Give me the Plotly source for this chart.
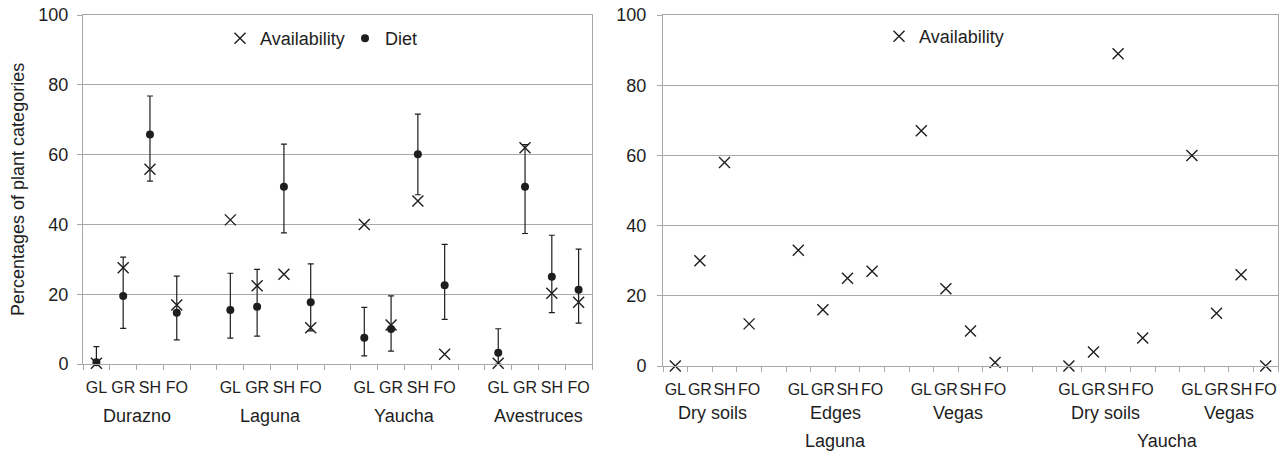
import plotly.graph_objects as go

# ---------------- data ----------------
cats = ["GL", "GR", "SH", "FO"]

left_sites = ["Durazno", "Laguna", "Yaucha", "Avestruces"]
left_avail = [0.2, 27.6, 55.8, 16.9,
              41.3, 22.4, 25.7, 10.4,
              40.0, 11.2, 46.7, 2.8,
              0.2, 62.0, 20.3, 17.7]
left_diet = [0.5, 19.5, 65.8, 14.7,
             15.5, 16.4, 50.8, 17.7,
             7.5, 10.0, 60.1, 22.6,
             3.2, 50.8, 25.0, 21.3]
diet_upper = [5.0, 30.6, 76.8, 25.2,
              26.0, 27.1, 63.0, 28.7,
              16.2, 19.5, 71.6, 34.3,
              10.1, 62.9, 36.9, 32.9]
diet_lower = [0.0, 10.2, 52.4, 6.9,
              7.4, 8.0, 37.6, 9.5,
              2.3, 3.7, 48.5, 12.8,
              0.0, 37.4, 14.7, 11.7]

right_habitats = ["Dry soils", "Edges", "Vegas", "Dry soils", "Vegas"]
right_sites = ["Laguna", "Yaucha"]
right_site_groups = [[0, 1, 2], [3, 4]]
right_avail = [0, 30, 58, 12,
               33, 16, 25, 27,
               67, 22, 10, 1,
               0, 4, 89, 8,
               60, 15, 26, 0]

y_ticks = [0, 20, 40, 60, 80, 100]
y_title = "Percentages of plant categories"

# ---------------- positions (slot indices) ----------------
left_starts = [g * 5 for g in range(len(left_sites))]
left_x = [s + i for s in left_starts for i in range(4)]
right_starts = [0, 5, 10, 16, 21]
right_x = [s + i for s in right_starts for i in range(4)]

err_plus = [u - d for u, d in zip(diet_upper, left_diet)]
err_minus = [d - l for d, l in zip(left_diet, diet_lower)]

INK = "#1e1e1e"
GRID = "#a8a8a8"
FONT = "Liberation Sans, Arial, sans-serif"

fig = go.Figure()

fig.add_trace(go.Scatter(
    x=left_x, y=left_avail, mode="markers", name="Availability",
    marker=dict(symbol="x-thin", size=11, line=dict(width=1.4, color=INK), color=INK),
    xaxis="x", yaxis="y", legend="legend", cliponaxis=False))
fig.add_trace(go.Scatter(
    x=left_x, y=left_diet, mode="markers", name="Diet",
    marker=dict(symbol="circle", size=8, color=INK),
    error_y=dict(type="data", array=err_plus, arrayminus=err_minus,
                 color=INK, thickness=1.2, width=3),
    xaxis="x", yaxis="y", legend="legend", cliponaxis=False))
fig.add_trace(go.Scatter(
    x=right_x, y=right_avail, mode="markers", name="Availability",
    marker=dict(symbol="x-thin", size=11, line=dict(width=1.4, color=INK), color=INK),
    xaxis="x2", yaxis="y2", legend="legend2", cliponaxis=False))

W, H = 1283, 453
def px(v):
    return v / W
def py(v):
    return 1 - v / H

axis_common = dict(showline=True, linecolor=GRID, linewidth=1, mirror=True,
                   zeroline=False, color=INK, automargin=False)

fig.update_layout(
    width=W, height=H, autosize=False,
    margin=dict(l=0, r=0, t=0, b=0, pad=0, autoexpand=False),
    paper_bgcolor="white", plot_bgcolor="white",
    font=dict(family=FONT, size=16, color=INK),
    xaxis=dict(domain=[px(83), px(592)], range=[-0.5, 18.5],
               tickmode="array", tickvals=left_x, ticktext=cats * len(left_sites),
               ticks="", showgrid=False, ticklabelstandoff=9, tickangle=0,
               tickfont=dict(size=16),
               minor=dict(tickmode="array", tickvals=[i - 0.5 for i in range(20)],
                          ticks="outside", ticklen=5, tickcolor=GRID, showgrid=False),
               anchor="y", **axis_common),
    yaxis=dict(domain=[py(364), py(15)], range=[0, 100.01],
               tickmode="array", tickvals=y_ticks, ticks="outside", ticklen=5,
               tickcolor=GRID, showgrid=True, gridcolor=GRID, gridwidth=1,
               tickfont=dict(size=18), ticklabelstandoff=5,
               anchor="x", **axis_common),
    xaxis2=dict(domain=[px(663), px(1278)], range=[-0.5, 24.5],
                tickmode="array", tickvals=right_x,
                ticktext=cats * len(right_habitats),
                ticks="", showgrid=False, ticklabelstandoff=9, tickangle=0,
                tickfont=dict(size=16),
                minor=dict(tickmode="array", tickvals=[i - 0.5 for i in range(26)],
                           ticks="outside", ticklen=5, tickcolor=GRID, showgrid=False),
                anchor="y2", **axis_common),
    yaxis2=dict(domain=[py(366), py(15)], range=[0, 100.01],
                tickmode="array", tickvals=y_ticks, ticks="outside", ticklen=5,
                tickcolor=GRID, showgrid=True, gridcolor=GRID, gridwidth=1,
                tickfont=dict(size=18), ticklabelstandoff=7,
                anchor="x2", **axis_common),
    legend=dict(orientation="h", x=px(220), y=py(20), xanchor="left", yanchor="top",
                bgcolor="rgba(0,0,0,0)", font=dict(size=18), itemwidth=30,
                entrywidth=80, tracegroupgap=0),
    legend2=dict(orientation="h", x=px(879), y=py(18), xanchor="left", yanchor="top",
                 bgcolor="rgba(0,0,0,0)", font=dict(size=18), itemwidth=30),
    showlegend=True,
)

annotations = [dict(x=px(18), y=py(190), xref="paper", yref="paper", text=y_title,
                    textangle=-90, showarrow=False, font=dict(size=18),
                    xanchor="center", yanchor="middle")]
for s, name in zip(left_starts, left_sites):
    annotations.append(dict(x=s + 1.5, y=py(416), xref="x", yref="paper",
                            text=name, showarrow=False, font=dict(size=18),
                            xanchor="center", yanchor="middle"))
for s, name in zip(right_starts, right_habitats):
    annotations.append(dict(x=s + 1.5, y=py(413), xref="x2", yref="paper",
                            text=name, showarrow=False, font=dict(size=18),
                            xanchor="center", yanchor="middle"))
for grp, name in zip(right_site_groups, right_sites):
    first = right_starts[grp[0]]
    last = right_starts[grp[-1]] + 3
    annotations.append(dict(x=(first + last) / 2, y=py(441), xref="x2", yref="paper",
                            text=name, showarrow=False, font=dict(size=18),
                            xanchor="center", yanchor="middle"))
fig.update_layout(annotations=annotations)

# remove the default page margin so the figure sits at the window origin
fig.write_html("out.html",
               config={"displayModeBar": False},
               post_script="document.body.style.margin='0';"
                           "document.body.style.overflow='hidden';")
